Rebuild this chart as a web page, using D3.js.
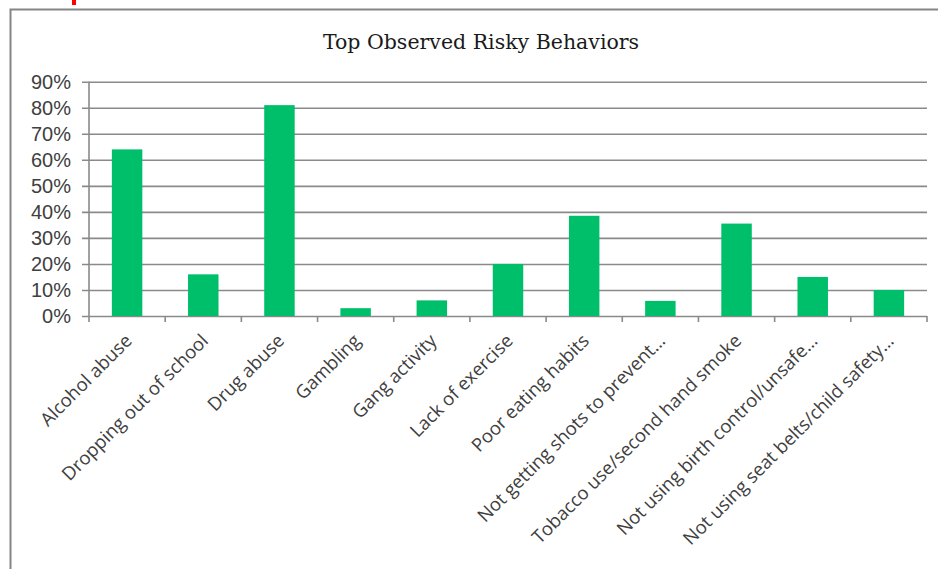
<!DOCTYPE html>
<html>
<head>
<meta charset="utf-8">
<script src="https://cdn.jsdelivr.net/npm/d3@7"></script>
<style>
  body { margin: 0; background: #fff; }
  svg { display: block; }
</style>
</head>
<body>
<svg id="viz"></svg>
<script>
// ----------------------------------------------------------------------------------------------------------------
// DATA

var categories = [
  "Alcohol abuse",
  "Dropping out of school",
  "Drug abuse",
  "Gambling",
  "Gang activity",
  "Lack of exercise",
  "Poor eating habits",
  "Not getting shots to prevent\u2026",
  "Tobacco use/second hand smoke",
  "Not using birth control/unsafe\u2026",
  "Not using seat belts/child safety\u2026"
];

var values = [0.64, 0.16, 0.81, 0.03, 0.06, 0.20, 0.385, 0.058, 0.355, 0.15, 0.10];

var yTicks = [0, 0.1, 0.2, 0.3, 0.4, 0.5, 0.6, 0.7, 0.8, 0.9];

var title = "Top Observed Risky Behaviors";

// ----------------------------------------------------------------------------------------------------------------
// INITIAL SETUP

var w = 938;
var h = 569;
var viz = d3.select("#viz").attr("width", w).attr("height", h);

var plotLeft = 89, plotRight = 927, plotTop = 81.7, plotBottom = 316;

var x = d3.scaleBand().domain(categories).range([plotLeft, plotRight]).paddingInner(0.6).paddingOuter(0.3);
var y = d3.scaleLinear().domain([0, 0.9]).range([plotBottom, plotTop]);

// red marker and outer frame
viz.append("rect")
  .attr("x", 72).attr("y", 0).attr("width", 4).attr("height", 5)
  .attr("fill", "#ff0000");

viz.append("path")
  .attr("d", "M10.5," + h + "V9.5H" + w)
  .attr("fill", "none")
  .attr("stroke", "#858585")
  .attr("stroke-width", 2);

// title
viz.append("text")
  .attr("x", 481).attr("y", 49)
  .attr("text-anchor", "middle")
  .attr("font-family", "'DejaVu Serif', serif")
  .attr("font-size", 20.5)
  .attr("fill", "#1a1a1a")
  .text(title);

// ----------------------------------------------------------------------------------------------------------------
// AXES

var yAxis = d3.axisLeft(y)
  .tickValues(yTicks)
  .tickFormat(d3.format(".0%"))
  .tickSize(-(plotRight - plotLeft))
  .tickPadding(18);

var gy = viz.append("g").attr("transform", "translate(" + plotLeft + ",0)").call(yAxis);
gy.select(".domain").remove();
gy.selectAll(".tick line")
  .attr("x1", -7)
  .attr("stroke", "#8a8a8a")
  .attr("stroke-width", 1.6);
gy.selectAll(".tick text")
  .attr("font-family", "'Liberation Sans', sans-serif")
  .attr("font-size", 20)
  .attr("fill", "#404040");

// y axis line
viz.append("line")
  .attr("x1", plotLeft).attr("x2", plotLeft)
  .attr("y1", y(0.9)).attr("y2", y(0))
  .attr("stroke", "#8a8a8a")
  .attr("stroke-width", 1.6);

// x ticks at category boundaries
var bounds = d3.range(categories.length + 1).map(function(i) {
  return plotLeft + i * (plotRight - plotLeft) / categories.length;
});
viz.selectAll("line.xtick")
  .data(bounds)
  .enter()
  .append("line")
  .attr("class", "xtick")
  .attr("x1", function(d) { return d; })
  .attr("x2", function(d) { return d; })
  .attr("y1", plotBottom)
  .attr("y2", plotBottom + 6)
  .attr("stroke", "#8a8a8a")
  .attr("stroke-width", 1.6);

// ----------------------------------------------------------------------------------------------------------------
// BARS

viz.selectAll("rect.bar")
  .data(values)
  .enter()
  .append("rect")
  .attr("class", "bar")
  .attr("x", function(d, i) { return x(categories[i]); })
  .attr("width", x.bandwidth())
  .attr("y", function(d) { return y(d); })
  .attr("height", function(d) { return y(0) - y(d); })
  .attr("fill", "#00bf6a");

// category labels
viz.selectAll("text.cat")
  .data(categories)
  .enter()
  .append("text")
  .attr("class", "cat")
  .attr("transform", function(d) {
    return "translate(" + (x(d) + x.bandwidth() / 2 + 6) + "," + (plotBottom + 26) + ") rotate(-45)";
  })
  .attr("text-anchor", "end")
  .attr("font-family", "'Open Sans', sans-serif")
  .attr("font-size", 18.5)
  .attr("fill", "#404040")
  .text(function(d) { return d; });
</script>
</body>
</html>
